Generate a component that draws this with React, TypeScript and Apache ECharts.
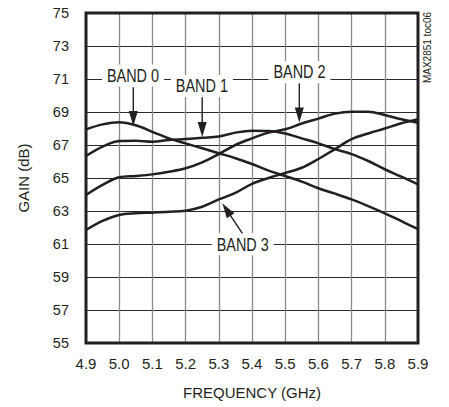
import React, { useEffect, useRef } from "react";
import * as echarts from "echarts";

// ---- data ----
const frequencies = [
  4.9, 4.95, 5.0, 5.05, 5.1, 5.15, 5.2, 5.25, 5.3, 5.35, 5.4, 5.45, 5.5, 5.55, 5.6,
  5.65, 5.7, 5.75, 5.8, 5.85, 5.9,
];
const band0 = [
  67.95, 68.25, 68.38, 68.2, 67.8, 67.4, 67.1, 66.8, 66.5, 66.2, 65.85, 65.45, 65.12,
  64.78, 64.38, 64.05, 63.7, 63.3, 62.86, 62.38, 61.9,
];
const band1 = [
  66.33, 66.9, 67.24, 67.26, 67.2, 67.3, 67.36, 67.44, 67.52, 67.75, 67.87, 67.85, 67.7,
  67.4, 67.1, 66.75, 66.45, 66.03, 65.53, 65.08, 64.62,
];
const band2 = [
  63.97, 64.58, 65.04, 65.12, 65.22, 65.38, 65.59, 65.95, 66.45, 67.0, 67.4, 67.75, 67.95,
  68.3, 68.6, 68.9, 69.02, 69.02, 68.82, 68.56, 68.35,
];
const band3 = [
  61.85, 62.4, 62.76, 62.86, 62.9, 62.95, 63.02, 63.26, 63.7, 64.1, 64.65, 65.0, 65.3,
  65.62, 66.15, 66.75, 67.35, 67.7, 68.0, 68.32, 68.56,
];
const bands = [band0, band1, band2, band3];
const bandNames = ["BAND 0", "BAND 1", "BAND 2", "BAND 3"];

const freqTicks = [4.9, 5.0, 5.1, 5.2, 5.3, 5.4, 5.5, 5.6, 5.7, 5.8, 5.9];
const gainTicks = [55, 57, 59, 61, 63, 65, 67, 69, 71, 73, 75];

// annotation anchors in data units: label centre, arrow start, arrow tip
const labelCenters = [
  [5.0416, 71.21],
  [5.249, 70.58],
  [5.543, 71.41],
  [5.372, 60.98],
];
const arrowStarts = [
  [5.0425, 70.5],
  [5.25, 69.89],
  [5.5425, 70.74],
  [5.371, 61.65],
];
const arrowTips = [
  [5.0425, 68.15],
  [5.25, 67.48],
  [5.5425, 68.36],
  [5.3105, 63.47],
];

const FONT = '"Liberation Sans", Arial, Helvetica, sans-serif';
const INK = "#231f20";

export default function App() {
  const ref = useRef<HTMLDivElement>(null);

  useEffect(() => {
    if (!ref.current) return;
    const chart = echarts.init(ref.current, undefined, { renderer: "svg" });

    const option: any = {
      animation: false,
      backgroundColor: "#ffffff",
      textStyle: { fontFamily: FONT, color: INK },
      grid: { left: 86, right: 31, top: 13, bottom: 64, show: false },
      xAxis: {
        type: "value",
        min: freqTicks[0],
        max: freqTicks[freqTicks.length - 1],
        interval: 0.1,
        axisLine: { show: false },
        axisTick: { show: false },
        splitLine: {
          show: true,
          showMinLine: false,
          showMaxLine: false,
          lineStyle: { color: "#8a8a8a", width: 1.3 },
        },
        axisLabel: {
          margin: 13,
          fontSize: 15,
          color: INK,
          fontFamily: FONT,
          formatter: (v: number) => v.toFixed(1),
        },
        name: "FREQUENCY (GHz)",
        nameLocation: "middle",
        nameGap: 42,
        nameTextStyle: { fontSize: 15, color: INK, fontFamily: FONT },
      },
      yAxis: {
        type: "value",
        min: gainTicks[0],
        max: gainTicks[gainTicks.length - 1],
        interval: gainTicks[1] - gainTicks[0],
        axisLine: { show: false },
        axisTick: { show: false },
        splitLine: {
          show: true,
          showMinLine: false,
          showMaxLine: false,
          lineStyle: { color: "#2a2a2a", width: 1 },
        },
        axisLabel: {
          margin: 17,
          fontSize: 14.5,
          color: INK,
          fontFamily: FONT,
        },
        name: "GAIN (dB)",
        nameLocation: "middle",
        nameRotate: 90,
        nameGap: 55,
        nameTextStyle: { fontSize: 15, color: INK, fontFamily: FONT },
      },
      series: bands.map((b, i) => ({
        name: bandNames[i],
        type: "line",
        symbol: "none",
        showSymbol: false,
        smooth: 0.35,
        z: 3,
        lineStyle: { color: INK, width: 2.5 },
        data: frequencies.map((f, j) => [f, b[j]]),
      })),
    };
    chart.setOption(option);

    const px = (p: number[]) => chart.convertToPixel({ gridIndex: 0 }, p) as number[];
    const tl = px([freqTicks[0], gainTicks[gainTicks.length - 1]]);
    const br = px([freqTicks[freqTicks.length - 1], gainTicks[0]]);

    const graphics: any[] = [];
    // plot frame
    graphics.push({
      type: "rect",
      z: 50,
      shape: { x: tl[0], y: tl[1], width: br[0] - tl[0], height: br[1] - tl[1] },
      style: { fill: "none", stroke: INK, lineWidth: 3 },
    });

    bandNames.forEach((name, i) => {
      const c = px(labelCenters[i]);
      const s = px(arrowStarts[i]);
      const t = px(arrowTips[i]);
      const w = 62;
      const h = 22;
      graphics.push({
        type: "rect",
        z: 60,
        shape: { x: c[0] - w / 2, y: c[1] - h / 2, width: w, height: h },
        style: { fill: "#ffffff" },
      });
      graphics.push({
        type: "text",
        z: 61,
        x: c[0],
        y: c[1],
        scaleX: 0.76,
        style: {
          text: name,
          fontSize: 19,
          fontFamily: FONT,
          fill: INK,
          align: "center",
          verticalAlign: "middle",
        },
      });
      // arrow
      const dx = t[0] - s[0];
      const dy = t[1] - s[1];
      const len = Math.sqrt(dx * dx + dy * dy);
      const ux = dx / len;
      const uy = dy / len;
      const L = 15;
      const W = 4.5;
      const bx = t[0] - ux * L;
      const by = t[1] - uy * L;
      graphics.push({
        type: "line",
        z: 62,
        shape: { x1: s[0], y1: s[1], x2: bx + ux * 2, y2: by + uy * 2 },
        style: { stroke: INK, lineWidth: 1.4 },
      });
      graphics.push({
        type: "polygon",
        z: 62,
        shape: {
          points: [
            [t[0], t[1]],
            [bx - uy * W, by + ux * W],
            [bx + uy * W, by - ux * W],
          ],
        },
        style: { fill: INK },
      });
    });

    graphics.push({
      type: "text",
      z: 61,
      x: br[0] + 9.5,
      y: tl[1] + 34.5,
      rotation: Math.PI / 2,
      style: {
        text: "MAX2851 toc06",
        fontSize: 10,
        fontFamily: FONT,
        fill: INK,
        align: "center",
        verticalAlign: "middle",
      },
    });

    chart.setOption({ graphic: graphics });

    return () => chart.dispose();
  }, []);

  return (
    <div
      ref={ref}
      style={{ position: "fixed", left: 0, top: 0, width: 449, height: 407 }}
    />
  );
}
